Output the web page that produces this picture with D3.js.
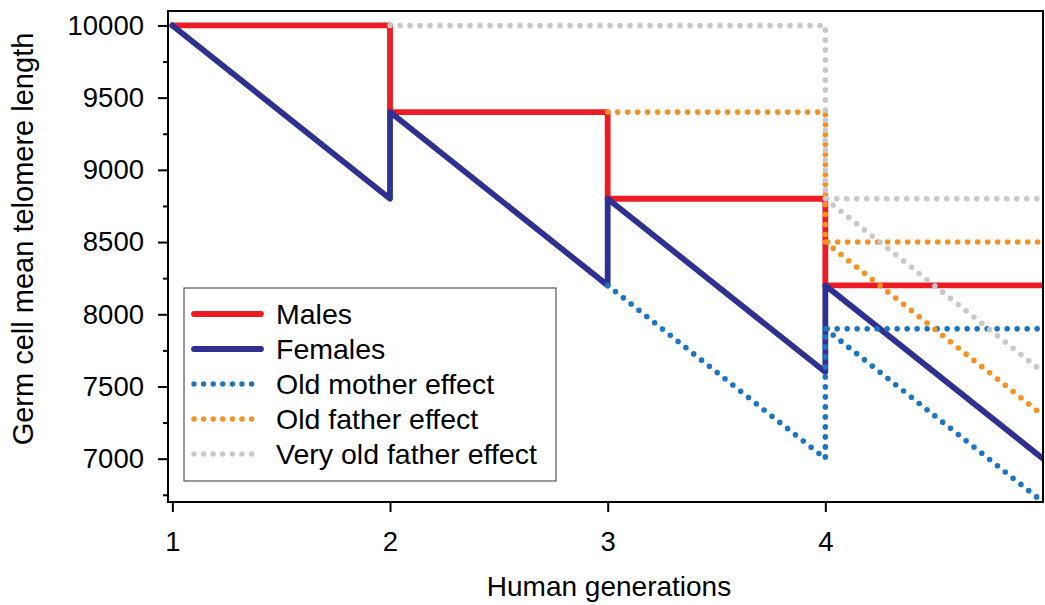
<!DOCTYPE html>
<html>
<head>
<meta charset="utf-8">
<script src="https://cdn.jsdelivr.net/npm/d3@7"></script>
<style>
  body { margin: 0; background: #fff; }
  svg { display: block; font-family: "Liberation Sans", Arial, sans-serif; }
</style>
</head>
<body>
<svg id="chart" width="1045" height="605"></svg>
<script>
// generations on x, telomere length on y
var xTicks = [1, 2, 3, 4];
var yMajorTicks = [7000, 7500, 8000, 8500, 9000, 9500, 10000];
var yMinorTicks = [6750, 7250, 7750, 8250, 8750, 9250, 9750];

var males = [[1, 10000], [2, 10000], [2, 9400], [3, 9400], [3, 8800], [4, 8800], [4, 8200], [5, 8200]];
var females = [[1, 10000], [2, 8800], [2, 9400], [3, 8200], [3, 8800], [4, 7600], [4, 8200], [5, 7000]];
var oldMother = [[3, 8200], [4, 7000], [4, 7900], [5, 7900]];
var oldMotherDecline = [[4, 7900], [5, 6700]];
var oldFather = [[3, 9400], [4, 9400], [4, 8500], [5, 8500]];
var oldFatherDecline = [[4, 8500], [5, 7300]];
var veryOldFather = [[2, 10000], [4, 10000], [4, 8800], [5, 8800]];
var veryOldFatherDecline = [[4, 8800], [5, 7600]];

var legendLabels = ["Males", "Females", "Old mother effect", "Old father effect", "Very old father effect"];
var colors = ["#ed1c24", "#2e3192", "#1b75c4", "#f7901e", "#c8c8c8"];

var svg = d3.select("#chart"),
    margin = {top: 11, right: 2, bottom: 103, left: 168},
    width = +svg.attr("width"),
    height = +svg.attr("height");

var x = d3.scaleLinear().domain([0.98, 5]).range([margin.left, width - margin.right]);
var y = d3.scaleLinear().domain([6700, 10100]).range([height - margin.bottom, margin.top]);

svg.append("defs").append("clipPath").attr("id", "plotclip")
  .append("rect")
  .attr("x", x.range()[0]).attr("y", y.range()[1])
  .attr("width", x.range()[1] - x.range()[0])
  .attr("height", y.range()[0] - y.range()[1]);

var line = d3.line()
  .x(function(d) { return x(d[0]); })
  .y(function(d) { return y(d[1]); });

var plot = svg.append("g").attr("clip-path", "url(#plotclip)");

// solid series first, dotted ones on top
var series = [
  {data: males, c: 0, dotted: false},
  {data: females, c: 1, dotted: false},
  {data: oldMother, c: 2, dotted: true},
  {data: oldMotherDecline, c: 2, dotted: true},
  {data: oldFather, c: 3, dotted: true},
  {data: oldFatherDecline, c: 3, dotted: true},
  {data: veryOldFather, c: 4, dotted: true},
  {data: veryOldFatherDecline, c: 4, dotted: true}
];

plot.selectAll(".series")
  .data(series)
  .enter().append("path")
    .attr("class", "series")
    .attr("d", function(d) { return line(d.data); })
    .attr("fill", "none")
    .attr("stroke", function(d) { return colors[d.c]; })
    .attr("stroke-width", function(d) { return d.dotted ? 5.6 : 5.8; })
    .attr("stroke-linecap", "round")
    .attr("stroke-linejoin", "round")
    .attr("stroke-dasharray", function(d) { return d.dotted ? "0 10" : null; });

// axes
var yAxisMajor = svg.append("g")
  .attr("transform", "translate(" + margin.left + ",0)")
  .call(d3.axisLeft(y).tickValues(yMajorTicks).tickSize(10).tickPadding(14).tickFormat(d3.format("d")));
var yAxisMinor = svg.append("g")
  .attr("transform", "translate(" + margin.left + ",0)")
  .call(d3.axisLeft(y).tickValues(yMinorTicks).tickSize(5).tickFormat(""));
var xAxis = svg.append("g")
  .attr("transform", "translate(0," + y.range()[0] + ")")
  .call(d3.axisBottom(x).tickValues(xTicks).tickSize(10).tickPadding(19).tickFormat(d3.format("d")));

[yAxisMajor, yAxisMinor, xAxis].forEach(function(a) {
  a.select(".domain").remove();
  a.selectAll(".tick line").attr("stroke", "#000").attr("stroke-width", 2);
  a.selectAll(".tick text")
    .attr("fill", "#000")
    .style("font-size", "27.5px")
    .style("font-family", "'Liberation Sans', Arial, sans-serif");
});

// frame
svg.append("rect")
  .attr("x", x.range()[0]).attr("y", y.range()[1])
  .attr("width", x.range()[1] - x.range()[0])
  .attr("height", y.range()[0] - y.range()[1])
  .attr("fill", "none")
  .attr("stroke", "#000")
  .attr("stroke-width", 2);

svg.append("text")
  .attr("x", 609).attr("y", 596)
  .attr("text-anchor", "middle")
  .style("font-size", "28px")
  .text("Human generations");

svg.append("text")
  .attr("transform", "translate(33,239) rotate(-90)")
  .attr("text-anchor", "middle")
  .style("font-size", "29px")
  .text("Germ cell mean telomere length");

// legend
var legend = svg.append("g").attr("transform", "translate(184,288)");
legend.append("rect")
  .attr("width", 372).attr("height", 193)
  .attr("fill", "#fff")
  .attr("stroke", "#555")
  .attr("stroke-width", 1.2);

var items = legend.selectAll(".item")
  .data(legendLabels)
  .enter().append("g")
    .attr("class", "item")
    .attr("transform", function(d, i) { return "translate(0," + (26 + i * 35) + ")"; });

items.append("line")
  .attr("x1", 10).attr("x2", 77)
  .attr("stroke", function(d, i) { return colors[i]; })
  .attr("stroke-width", function(d, i) { return i < 2 ? 5.8 : 5.4; })
  .attr("stroke-linecap", "round")
  .attr("stroke-dasharray", function(d, i) { return i < 2 ? null : "0 9.6"; });

items.append("text")
  .attr("x", 92).attr("dy", "0.35em")
  .style("font-size", "28.5px")
  .text(function(d) { return d; });
</script>
</body>
</html>
